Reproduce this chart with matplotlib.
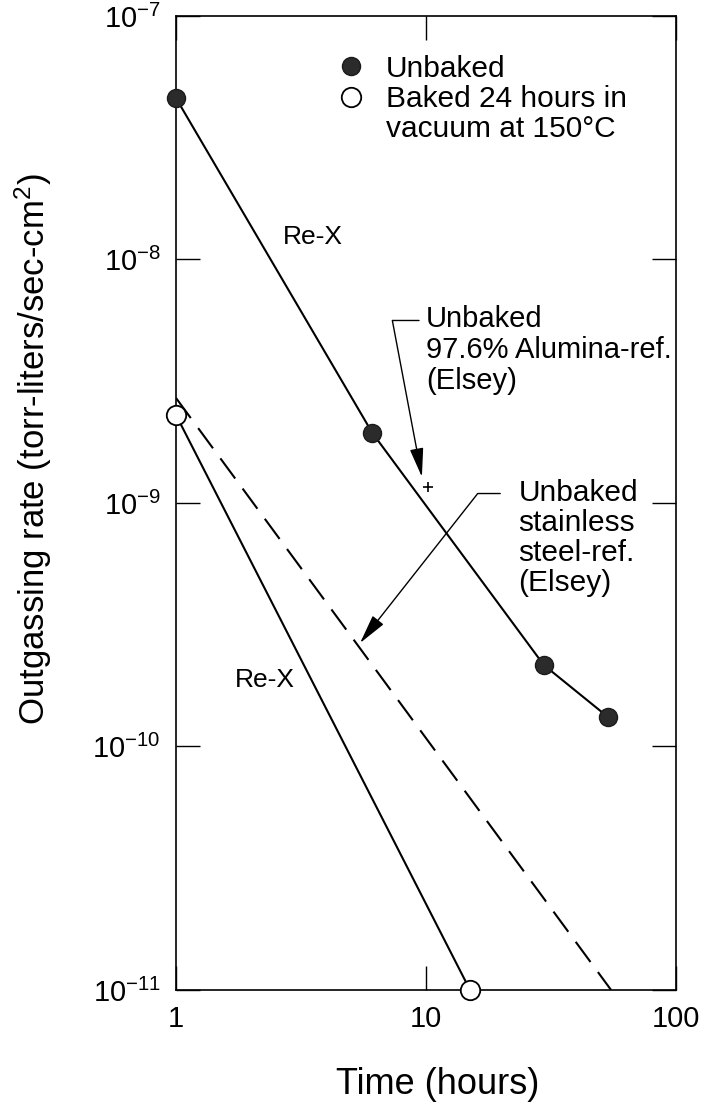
import matplotlib
matplotlib.use("Agg")
import matplotlib.pyplot as plt
from matplotlib.lines import Line2D
from matplotlib.ticker import FixedLocator, FixedFormatter, NullLocator

plt.rcParams['font.family'] = ['Liberation Sans', 'DejaVu Sans']
plt.rcParams['mathtext.fontset'] = 'custom'
plt.rcParams['mathtext.rm'] = 'Liberation Sans'
plt.rcParams['mathtext.it'] = 'Liberation Sans:italic'
plt.rcParams['mathtext.bf'] = 'Liberation Sans:bold'
plt.rcParams['mathtext.sf'] = 'Liberation Sans'

# values
unbaked_hours = [1, 6.1, 29.6, 53.5]
unbaked_rate = [4.6e-8, 1.94e-9, 2.16e-10, 1.32e-10]

baked_hours = [1, 15]
baked_rate = [2.3e-9, 1e-11]

steel_hours = [1, 55]        # Elsey stainless steel reference (dashed)
steel_rate = [2.7e-9, 1e-11]

alumina_hours = [10.2]       # Elsey 97.6% alumina reference (+)
alumina_rate = [1.16e-9]

x_ticks = [1, 10, 100]
x_tick_labels = ['1', '10', '100']
y_ticks = [1e-11, 1e-10, 1e-9, 1e-8, 1e-7]
y_tick_labels = ['$10^{-11}$', '$10^{-10}$', '$10^{-9}$', '$10^{-8}$', '$10^{-7}$']

legend_labels = ['Unbaked', 'Baked 24 hours in', 'vacuum at 150°C']

fig = plt.figure(figsize=(7.13, 11.07), dpi=100)
ax = fig.add_axes([0.2468, 0.1057, 0.7013, 0.8799])
ax.set_xscale('log')
ax.set_yscale('log')
ax.set_xlim(1, 100)
ax.set_ylim(1e-11, 1e-7)

# unbaked (filled circles)
ax.plot(unbaked_hours, unbaked_rate, color='black', lw=1.5, marker='o', ms=13,
        mfc='#2b2b2b', mec='#1a1a1a', clip_on=False, zorder=4)
# baked (open circles)
ax.plot(baked_hours, baked_rate, color='black', lw=1.5, marker='o', ms=14,
        mfc='white', mec='black', mew=1.3, clip_on=False, zorder=5)
# stainless steel reference
ax.plot(steel_hours, steel_rate, color='black', lw=1.5, dashes=(12, 6), zorder=3)
# alumina reference point
ax.plot(alumina_hours, alumina_rate, color='black', ls='none', marker='+', ms=7, mew=1.2)

ax.text(3.53, 1.24e-8, 'Re-X', fontsize=19, ha='center', va='center')
ax.text(2.27, 1.87e-10, 'Re-X', fontsize=19, ha='center', va='center')

ax.annotate('Unbaked\n97.6% Alumina-ref.\n(Elsey)', xy=(9.63, 1.28e-9), xytext=(10.0, 4.25e-9),
            ha='left', va='center', fontsize=21, linespacing=1.12,
            arrowprops=dict(arrowstyle='-|>,head_length=0.85,head_width=0.2', color='black', lw=1,
                            connectionstyle='angle,angleA=180,angleB=100.7,rad=0',
                            relpos=(0, 0.83), shrinkA=3, shrinkB=0))
ax.annotate('Unbaked\nstainless\nsteel-ref.\n(Elsey)', xy=(5.45, 2.66e-10), xytext=(23.4, 7.18e-10),
            ha='left', va='center', fontsize=21.5, linespacing=1.1,
            arrowprops=dict(arrowstyle='-|>,head_length=0.85,head_width=0.2', color='black', lw=1,
                            connectionstyle='angle,angleA=180,angleB=51.8,rad=0',
                            relpos=(0, 0.875), shrinkA=11, shrinkB=0))

handles = [Line2D([], [], ls='none', marker='o', ms=13, mfc='#2b2b2b', mec='#1a1a1a'),
           Line2D([], [], ls='none', marker='o', ms=14, mfc='white', mec='black', mew=1.3)]
handles.append(Line2D([], [], ls='none'))
ax.legend(handles, legend_labels, loc='upper left', bbox_to_anchor=(0.322, 0.96), frameon=False,
          fontsize=21.5, handlelength=0.95, handletextpad=0.7, labelspacing=0.07,
          borderpad=0, borderaxespad=0)

ax.xaxis.set_major_locator(FixedLocator(x_ticks))
ax.xaxis.set_major_formatter(FixedFormatter(x_tick_labels))
ax.xaxis.set_minor_locator(NullLocator())
ax.yaxis.set_major_locator(FixedLocator(y_ticks))
ax.yaxis.set_major_formatter(FixedFormatter(y_tick_labels))
ax.yaxis.set_minor_locator(NullLocator())
ax.tick_params(which='major', direction='in', length=17, width=1, top=True, right=True,
               labelsize=21, pad=11)
for s in ax.spines.values():
    s.set_linewidth(1.2)

ax.set_xlabel('Time (hours)', fontsize=26)
ax.xaxis.set_label_coords(0.524, -0.079)
ax.set_ylabel('Outgassing rate (torr-liters/sec-cm$^2$)', fontsize=25, va='center')
ax.yaxis.set_label_coords(-0.286, 0.555)

plt.savefig('out.png', dpi=100)
